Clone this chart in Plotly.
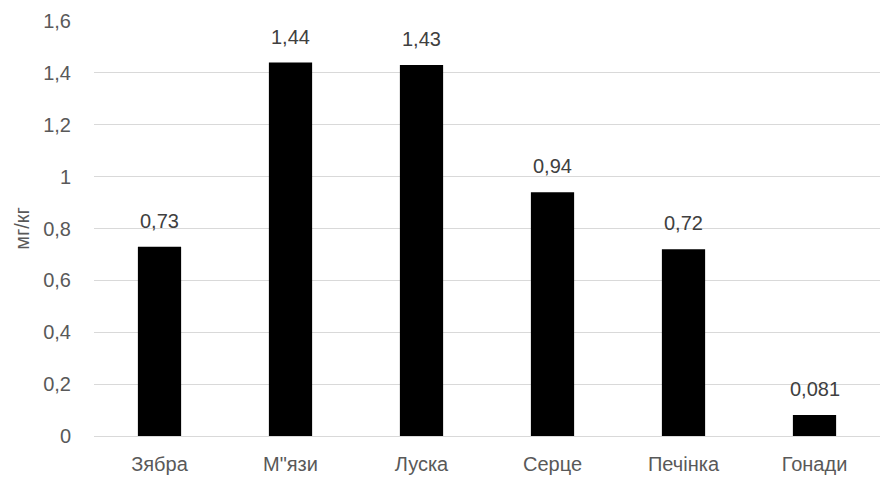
import plotly.graph_objects as go

categories = ["Зябра", "М\"язи", "Луска", "Серце", "Печінка", "Гонади"]
values = [0.73, 1.44, 1.43, 0.94, 0.72, 0.081]
value_labels = ["0,73", "1,44", "1,43", "0,94", "0,72", "0,081"]
y_ticks = [0, 0.2, 0.4, 0.6, 0.8, 1.0, 1.2, 1.4, 1.6]
y_tick_labels = ["0", "0,2", "0,4", "0,6", "0,8", "1", "1,2", "1,4", "1,6"]

font_family = "Liberation Sans, Noto Sans, sans-serif"
text_color = "#595959"

fig = go.Figure(
    go.Bar(
        x=categories,
        y=values,
        marker=dict(color="#000000", line=dict(width=0)),
        hoverinfo="x+y",
    )
)

# value labels sit a fixed distance above each bar
for cat, val, lab in zip(categories, values, value_labels):
    fig.add_annotation(
        x=cat,
        y=val,
        text=lab,
        showarrow=False,
        yanchor="bottom",
        yshift=13,
        font=dict(size=20, color="#404040", family=font_family),
    )

fig.update_layout(
    width=887,
    height=479,
    margin=dict(l=94, r=7, t=21, b=43),
    paper_bgcolor="white",
    plot_bgcolor="white",
    bargap=0.67,
    showlegend=False,
    font=dict(family=font_family, color=text_color, size=20),
)

fig.update_yaxes(
    range=[0, 1.6],
    tickvals=y_ticks,
    ticktext=y_tick_labels,
    showgrid=True,
    gridcolor="#d9d9d9",
    gridwidth=1,
    zeroline=True,
    zerolinecolor="#d9d9d9",
    zerolinewidth=1,
    showline=False,
    ticks="",
    automargin=False,
    ticklabelstandoff=22,
    tickfont=dict(size=20, color=text_color),
    title=dict(text="мг/кг", font=dict(size=20, color=text_color), standoff=8),
)

fig.update_xaxes(
    showline=False,
    ticks="",
    automargin=False,
    tickfont=dict(size=20, color=text_color),
    ticklabelstandoff=14,
)

fig.write_html("out.html")
